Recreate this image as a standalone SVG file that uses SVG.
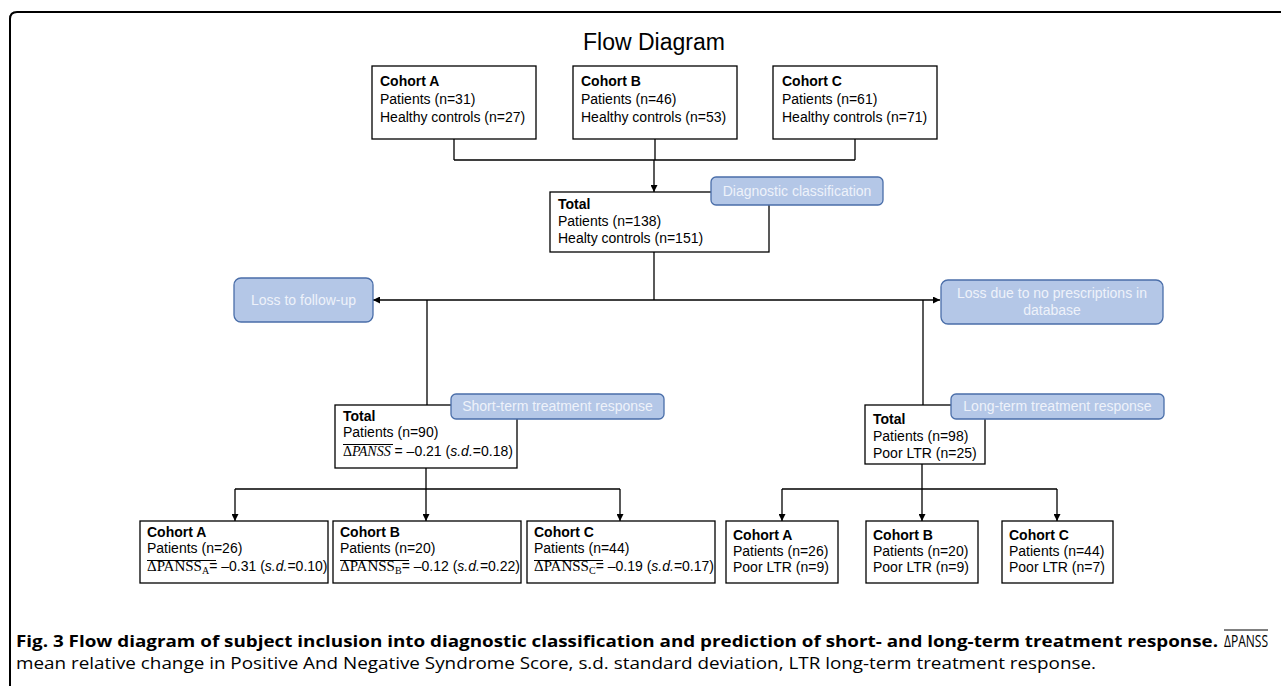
<svg xmlns="http://www.w3.org/2000/svg" width="1281" height="686" viewBox="0 0 1281 686">
<style>
.box{fill:#fff;stroke:#000;stroke-width:1.3}
.lbl{fill:#b4c7e7;stroke:#4a6ea9;stroke-width:1.3}
.t{font-family:"Liberation Sans",Arial,sans-serif;font-size:14px;fill:#000}
.b{font-weight:bold}
.lt{font-family:"Liberation Sans",Arial,sans-serif;font-size:14px;fill:#eef2fa;text-anchor:middle}
.conn{fill:none;stroke:#000;stroke-width:1.3}
.ov{stroke:#000;stroke-width:1}
.m{font-family:"Liberation Serif","Times New Roman",serif}
.cap{font-family:"Open Sans","Noto Sans",sans-serif;font-size:16px;fill:#000}
</style>
<defs>
<marker id="ah" viewBox="0 0 10 10" refX="10" refY="5" markerWidth="7" markerHeight="7" orient="auto" markerUnits="userSpaceOnUse"><path d="M0,0 L10,5 L0,10 z" fill="#000"/></marker>
</defs>
<rect width="1281" height="686" fill="#fff"/>
<path d="M10,686 V19 Q10,12 17,12 H1281" fill="none" stroke="#000" stroke-width="2"/>
<text x="654" y="50" text-anchor="middle" font-family="Liberation Sans,Arial,sans-serif" font-size="23">Flow Diagram</text>

<g id="connectors" class="conn">
<path d="M454,139 V160 M655,139 V160 M855,139 V160 M454,160 H855"/>
<path d="M654,160 V192" marker-end="url(#ah)"/>
<path d="M654,252 V300"/>
<path d="M654,300 H373" marker-end="url(#ah)"/>
<path d="M654,300 H940" marker-end="url(#ah)"/>
<path d="M427,300 V405"/>
<path d="M923,300 V405"/>
<path d="M426,468 V489 M235,489 H620"/>
<path d="M235,489 V521" marker-end="url(#ah)"/>
<path d="M426,489 V521" marker-end="url(#ah)"/>
<path d="M620,489 V521" marker-end="url(#ah)"/>
<path d="M922,464 V489 M782,489 H1057"/>
<path d="M782,489 V521" marker-end="url(#ah)"/>
<path d="M922,489 V521" marker-end="url(#ah)"/>
<path d="M1057,489 V521" marker-end="url(#ah)"/>
</g>

<g id="cohortA-top">
<rect class="box" x="372" y="66" width="164" height="73"/>
<text class="t b" x="380" y="86">Cohort A</text>
<text class="t" x="380" y="104">Patients (n=31)</text>
<text class="t" x="380" y="122">Healthy controls (n=27)</text>
</g>
<g id="cohortB-top">
<rect class="box" x="573" y="66" width="164" height="73"/>
<text class="t b" x="581" y="86">Cohort B</text>
<text class="t" x="581" y="104">Patients (n=46)</text>
<text class="t" x="581" y="122">Healthy controls (n=53)</text>
</g>
<g id="cohortC-top">
<rect class="box" x="773" y="66" width="164" height="73"/>
<text class="t b" x="782" y="86">Cohort C</text>
<text class="t" x="782" y="104">Patients (n=61)</text>
<text class="t" x="782" y="122">Healthy controls (n=71)</text>
</g>

<g id="total-diag">
<rect class="box" x="550" y="192" width="219" height="60"/>
<text class="t b" x="558" y="209">Total</text>
<text class="t" x="558" y="226">Patients (n=138)</text>
<text class="t" x="558" y="243">Healty controls (n=151)</text>
</g>

<g id="total-short">
<rect class="box" x="335" y="405" width="182" height="63"/>
<text class="t b" x="343" y="421">Total</text>
<text class="t" x="343" y="437">Patients (n=90)</text>
<text class="t" x="343" y="456"><tspan class="m">Δ</tspan><tspan class="m" font-style="italic">PANSS</tspan> = –0.21 (<tspan font-style="italic">s.d.</tspan>=0.18)</text>
<line class="ov" x1="343" y1="444.5" x2="393" y2="444.5"/>
</g>

<g id="total-long">
<rect class="box" x="865" y="405" width="120" height="59"/>
<text class="t b" x="873" y="424">Total</text>
<text class="t" x="873" y="441">Patients (n=98)</text>
<text class="t" x="873" y="458">Poor LTR (n=25)</text>
</g>

<g id="short-A">
<rect class="box" x="140" y="521" width="188" height="62"/>
<text class="t b" x="147" y="537">Cohort A</text>
<text class="t" x="147" y="553">Patients (n=26)</text>
<text class="t" x="147" y="571"><tspan class="m" font-size="15">ΔPANSS</tspan><tspan class="m" font-size="10" dy="3">A</tspan><tspan dy="-3">= –0.31 (</tspan><tspan font-style="italic">s.d.</tspan>=0.10)</text>
<line class="ov" x1="147" y1="560.5" x2="216" y2="560.5"/>
</g>
<g id="short-B">
<rect class="box" x="333" y="521" width="188" height="62"/>
<text class="t b" x="340" y="537">Cohort B</text>
<text class="t" x="340" y="553">Patients (n=20)</text>
<text class="t" x="340" y="571"><tspan class="m" font-size="15">ΔPANSS</tspan><tspan class="m" font-size="10" dy="3">B</tspan><tspan dy="-3">= –0.12 (</tspan><tspan font-style="italic">s.d.</tspan>=0.22)</text>
<line class="ov" x1="340" y1="560.5" x2="409" y2="560.5"/>
</g>
<g id="short-C">
<rect class="box" x="527" y="521" width="188" height="62"/>
<text class="t b" x="534" y="537">Cohort C</text>
<text class="t" x="534" y="553">Patients (n=44)</text>
<text class="t" x="534" y="571"><tspan class="m" font-size="15">ΔPANSS</tspan><tspan class="m" font-size="10" dy="3">C</tspan><tspan dy="-3">= –0.19 (</tspan><tspan font-style="italic">s.d.</tspan>=0.17)</text>
<line class="ov" x1="534" y1="560.5" x2="603" y2="560.5"/>
</g>

<g id="long-A">
<rect class="box" x="726" y="521" width="112" height="62"/>
<text class="t b" x="733" y="540">Cohort A</text>
<text class="t" x="733" y="556">Patients (n=26)</text>
<text class="t" x="733" y="572">Poor LTR (n=9)</text>
</g>
<g id="long-B">
<rect class="box" x="866" y="521" width="112" height="62"/>
<text class="t b" x="873" y="540">Cohort B</text>
<text class="t" x="873" y="556">Patients (n=20)</text>
<text class="t" x="873" y="572">Poor LTR (n=9)</text>
</g>
<g id="long-C">
<rect class="box" x="1002" y="521" width="111" height="62"/>
<text class="t b" x="1009" y="540">Cohort C</text>
<text class="t" x="1009" y="556">Patients (n=44)</text>
<text class="t" x="1009" y="572">Poor LTR (n=7)</text>
</g>

<g id="label-diagnostic">
<rect class="lbl" x="711" y="177" width="172" height="28" rx="5"/>
<text class="lt" x="797" y="196">Diagnostic classification</text>
</g>
<g id="label-loss-followup">
<rect class="lbl" x="234" y="278" width="139" height="44" rx="7"/>
<text class="lt" x="303.5" y="305">Loss to follow-up</text>
</g>
<g id="label-loss-prescriptions">
<rect class="lbl" x="941" y="280" width="222" height="44" rx="7"/>
<text class="lt" x="1052" y="298">Loss due to no prescriptions in</text>
<text class="lt" x="1052" y="315">database</text>
</g>
<g id="label-short">
<rect class="lbl" x="451" y="394" width="213" height="25" rx="5"/>
<text class="lt" x="557.5" y="411">Short-term treatment response</text>
</g>
<g id="label-long">
<rect class="lbl" x="951" y="394" width="213" height="25" rx="5"/>
<text class="lt" x="1057.5" y="411">Long-term treatment response</text>
</g>

<g id="caption">
<text class="cap" x="16" y="647" font-weight="bold" textLength="1202" lengthAdjust="spacingAndGlyphs">Fig. 3 Flow diagram of subject inclusion into diagnostic classification and prediction of short- and long-term treatment response.</text>
<text class="cap" x="1224" y="647" font-size="15" textLength="44" lengthAdjust="spacingAndGlyphs">ΔPANSS</text>
<line class="ov" x1="1224" y1="630" x2="1268" y2="630"/>
<text class="cap" x="16" y="669" textLength="1080" lengthAdjust="spacingAndGlyphs">mean relative change in Positive And Negative Syndrome Score, s.d. standard deviation, LTR long-term treatment response.</text>
</g>
</svg>
